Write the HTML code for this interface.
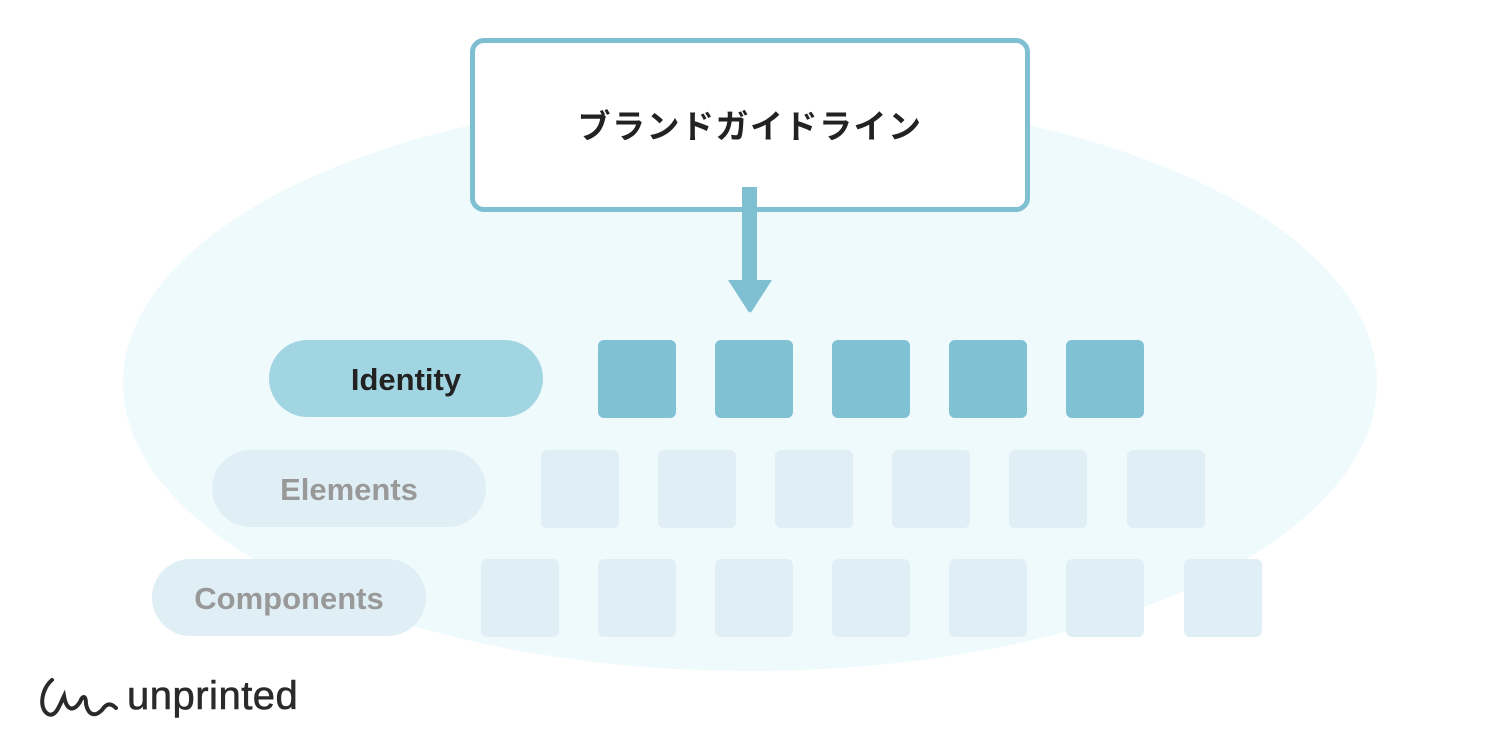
<!DOCTYPE html>
<html><head><meta charset="utf-8"><style>
body{margin:0;width:1500px;height:750px;background:#fff;position:relative;overflow:hidden;font-family:"Liberation Sans","Noto Sans CJK JP",sans-serif}
.abs{position:absolute}
.pill{position:absolute;width:274px;height:77px;border-radius:39px;display:flex;align-items:center;justify-content:center;font-weight:bold;font-size:31px;padding-top:3px;box-sizing:border-box}
.sq{position:absolute;width:78px;height:78px;border-radius:6px}
</style></head><body>
<div class="abs" style="left:123px;top:95px;width:1254px;height:576px;border-radius:50%;background:#effafd"></div>
<div class="abs" style="left:470px;top:38px;width:550px;height:164px;border:5px solid #7fbfd2;border-radius:14px;background:#fff;display:flex;align-items:center;justify-content:center;font-size:33px;font-weight:bold;color:#222;letter-spacing:1.5px"><span style="margin-top:-2px">ブランドガイドライン</span></div>
<svg class="abs" style="left:0;top:0" width="1500" height="750"><rect x="742" y="187" width="15" height="95" fill="#7fbfd2"/><path d="M728 280 L772 280 L752 311 Q750 314 748 311 Z" fill="#7fbfd2"/></svg>
<div class="pill" style="left:269px;top:340px;background:#a2d5e2;color:#222">Identity</div>
<div class="pill" style="left:212px;top:450px;background:#dfeff5;color:#999">Elements</div>
<div class="pill" style="left:152px;top:559px;background:#dfeff5;color:#999">Components</div>
<div class="sq" style="left:598px;top:340px;background:#80c1d3"></div>
<div class="sq" style="left:715px;top:340px;background:#80c1d3"></div>
<div class="sq" style="left:832px;top:340px;background:#80c1d3"></div>
<div class="sq" style="left:949px;top:340px;background:#80c1d3"></div>
<div class="sq" style="left:1066px;top:340px;background:#80c1d3"></div>
<div class="sq" style="left:541px;top:450px;background:#dfeff5"></div>
<div class="sq" style="left:658px;top:450px;background:#dfeff5"></div>
<div class="sq" style="left:775px;top:450px;background:#dfeff5"></div>
<div class="sq" style="left:892px;top:450px;background:#dfeff5"></div>
<div class="sq" style="left:1009px;top:450px;background:#dfeff5"></div>
<div class="sq" style="left:1127px;top:450px;background:#dfeff5"></div>
<div class="sq" style="left:481px;top:559px;background:#dfeff5"></div>
<div class="sq" style="left:598px;top:559px;background:#dfeff5"></div>
<div class="sq" style="left:715px;top:559px;background:#dfeff5"></div>
<div class="sq" style="left:832px;top:559px;background:#dfeff5"></div>
<div class="sq" style="left:949px;top:559px;background:#dfeff5"></div>
<div class="sq" style="left:1066px;top:559px;background:#dfeff5"></div>
<div class="sq" style="left:1184px;top:559px;background:#dfeff5"></div>
<svg class="abs" style="left:36px;top:674px" width="90" height="50"><path d="M16 6 C6 14 2 34 12 40 C20 44 24 30 28 22 C30 34 36 40 44 28 C46 22 50 20 50 30 C52 40 58 44 66 36 C70 30 74 28 80 34" fill="none" stroke="#2a2a2a" stroke-width="4" stroke-linecap="round"/></svg>
<div class="abs" style="left:127px;top:674px;font-size:40px;color:#2a2a2a;letter-spacing:0.5px;-webkit-text-stroke:0.6px #2a2a2a">unprinted</div>
</body></html>
